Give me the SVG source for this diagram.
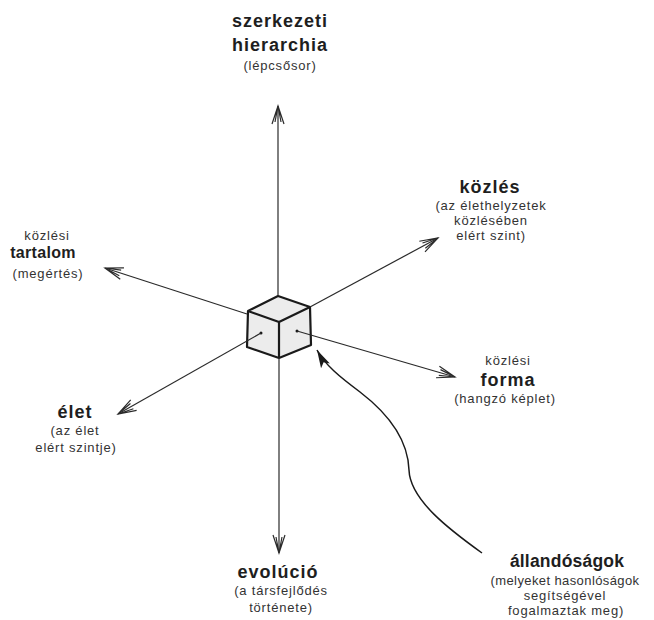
<svg xmlns="http://www.w3.org/2000/svg" width="654" height="620" viewBox="0 0 654 620">
<defs>
<marker id="open" markerWidth="24" markerHeight="16" refX="20" refY="8" orient="auto" markerUnits="userSpaceOnUse">
<path d="M2,2 L20,8 L2,14 M4,5 L20,8 M4,11 L20,8" fill="none" stroke="#2a2a2a" stroke-width="1.2"/>
</marker>
<marker id="solid" markerWidth="20" markerHeight="12" refX="18" refY="6" orient="auto" markerUnits="userSpaceOnUse">
<path d="M0,1 L18,6 L0,11 L4,6 Z" fill="#1a1a1a"/>
</marker>
<style>
.ax{fill:none;stroke:#2a2a2a;stroke-width:1.2;marker-end:url(#open)}
.b{font-family:"Liberation Sans",Arial,sans-serif;font-weight:bold;font-size:18px;fill:#1e1e1e;text-anchor:middle;letter-spacing:1px}
.s{font-family:"Liberation Sans",Arial,sans-serif;font-size:13px;fill:#333;text-anchor:middle;letter-spacing:0.8px}
.cube{fill:#ececec;stroke:#1a1a1a;stroke-width:2.2;stroke-linejoin:round}
</style>
</defs>
<rect width="654" height="620" fill="#ffffff"/>
<g id="cube">
<path class="cube" d="M278,296 L310,307 L311,345 L279,358 L247,347 L248,311 Z"/>
<path class="cube" fill="none" d="M248,311 L279,322 L310,307 M279,322 L279,358"/>
<circle cx="261" cy="333" r="1.5" fill="#1a1a1a"/>
<circle cx="297" cy="331" r="1.5" fill="#1a1a1a"/>
</g>
<g id="connectors">
<line class="ax" x1="278" y1="296" x2="278" y2="106"/>
<line class="ax" x1="279" y1="358" x2="279" y2="553"/>
<line class="ax" x1="310" y1="307" x2="438" y2="238"/>
<line class="ax" x1="247" y1="314" x2="105" y2="268"/>
<line class="ax" x1="297" y1="331" x2="455" y2="377"/>
<line class="ax" x1="261" y1="333" x2="118" y2="414"/>
<path d="M482,553 C450,530 410,500 409,470 C408,440 390,415 360,392 C340,377 325,365 317,350" fill="none" stroke="#1a1a1a" stroke-width="1.5" marker-end="url(#solid)"/>
</g>
<g id="szerkezeti">
<text class="b" x="280" y="27">szerkezeti</text>
<text class="b" x="280" y="51">hierarchia</text>
<text class="s" x="280" y="70">(lépcsősor)</text>
</g>
<g id="kozles">
<text class="b" x="490" y="193">közlés</text>
<text class="s" x="491" y="210">(az élethelyzetek</text>
<text class="s" x="491" y="225">közlésében</text>
<text class="s" x="491" y="240">elért szint)</text>
</g>
<g id="tartalom">
<text class="s" x="47" y="240">közlési</text>
<text class="b" x="43" y="258" style="font-size:16px;letter-spacing:0.3px">tartalom</text>
<text class="s" x="48" y="278">(megértés)</text>
</g>
<g id="forma">
<text class="s" x="508" y="365">közlési</text>
<text class="b" x="508" y="386">forma</text>
<text class="s" x="505" y="403">(hangzó képlet)</text>
</g>
<g id="elet">
<text class="b" x="75" y="418">élet</text>
<text class="s" x="75" y="435">(az élet</text>
<text class="s" x="76" y="452">elért szintje)</text>
</g>
<g id="evolucio">
<text class="b" x="278" y="578">evolúció</text>
<text class="s" x="281" y="595">(a társfejlődés</text>
<text class="s" x="281" y="612">története)</text>
</g>
<g id="allandosagok">
<text class="b" x="567" y="567" style="letter-spacing:0.2px;font-size:17.5px">állandóságok</text>
<text class="s" x="565" y="585" style="letter-spacing:0.4px">(melyeket hasonlóságok</text>
<text class="s" x="565" y="600">segítségével</text>
<text class="s" x="566" y="615">fogalmaztak meg)</text>
</g>
</svg>
